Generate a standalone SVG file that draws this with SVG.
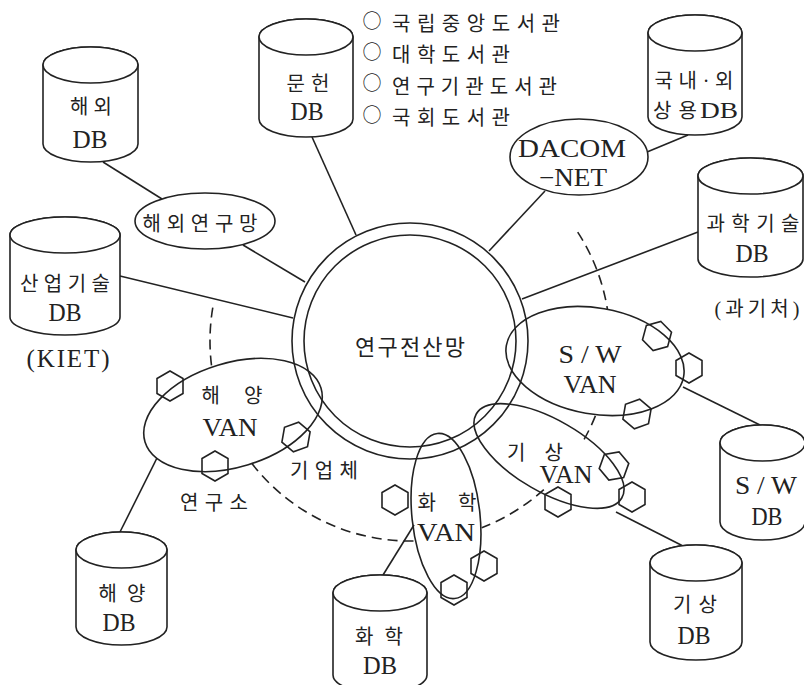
<svg xmlns="http://www.w3.org/2000/svg" xmlns:xlink="http://www.w3.org/1999/xlink" width="804" height="685" viewBox="0 0 804 685">
<style>
.s{fill:none;stroke:#222;stroke-width:1.6}
.d{fill:none;stroke:#222;stroke-width:1.6;stroke-dasharray:10 6}
.c{fill:#fff;stroke:#222;stroke-width:1.6}
.t{font-family:"Liberation Serif","Noto Sans CJK KR",serif;fill:#222;text-anchor:middle;font-size:20px}
.l{font-size:25px}
.b{font-family:"Noto Sans CJK KR",sans-serif;fill:#222;font-size:19px;text-anchor:middle}
.st{text-anchor:start}
</style>
<defs>
<polygon id="hx" points="0,-15 13,-7.5 13,7.5 0,15 -13,7.5 -13,-7.5" fill="none" stroke="#222" stroke-width="1.6"/>
</defs>
<rect width="804" height="685" fill="#fff"/>

<g id="connectors">
<path class="s" d="M103,162 L162,199"/>
<path class="s" d="M243,245 L305,282"/>
<path class="s" d="M120,276 L293,318"/>
<path class="s" d="M312,137 L356,235"/>
<path class="s" d="M545,191 L489,251"/>
<path class="s" d="M647,152 L688,135"/>
<path class="s" d="M698,232 L522,299"/>
<path class="s" d="M683,387 L760,425"/>
<path class="s" d="M616,512 L683,546"/>
<path class="s" d="M157,458 L120,532"/>
<path class="s" d="M414,525 L383,575"/>
<path class="d" d="M211.5,365.4 A200,200 0 0 1 213,306.3"/>
<path class="d" d="M577.7,232.1 A200,200 0 0 1 607.5,309.7"/>
<path class="d" d="M595.4,415.9 A200,200 0 0 1 582.3,442.5"/>
<path class="d" d="M543.8,489.6 A200,200 0 0 1 481.7,527.7"/>
<path class="d" d="M413.5,541 A200,200 0 0 1 250.3,461.4"/>
</g>

<g id="ring">
<circle class="s" cx="410" cy="341" r="118"/>
<circle class="s" cx="410" cy="341" r="106"/>
<text class="t" x="410" y="355" style="font-size:22px" textLength="110" lengthAdjust="spacing">연구전산망</text>
</g>

<g id="list">
<text class="b" x="372" y="28">○</text>
<text class="b" x="372" y="59">○</text>
<text class="b" x="372" y="90">○</text>
<text class="b" x="372" y="122">○</text>
<text class="t st" x="392" y="31" textLength="168" lengthAdjust="spacing">국립중앙도서관</text>
<text class="t st" x="392" y="62" textLength="118" lengthAdjust="spacing">대학도서관</text>
<text class="t st" x="392" y="94" textLength="165" lengthAdjust="spacing">연구기관도서관</text>
<text class="t st" x="392" y="125" textLength="118" lengthAdjust="spacing">국회도서관</text>
</g>

<g id="net-overseas">
<ellipse class="c" cx="205" cy="221" rx="70" ry="28"/>
<text class="t" x="200" y="230.5" textLength="115" lengthAdjust="spacing">해외연구망</text>
</g>

<g id="net-dacom">
<ellipse class="c" cx="579" cy="157" rx="69" ry="38"/>
<text class="t" x="572" y="157" style="font-size:25px" textLength="108" lengthAdjust="spacingAndGlyphs">DACOM</text>
<text class="t" x="573" y="186" style="font-size:25px" textLength="68" lengthAdjust="spacingAndGlyphs">−NET</text>
</g>

<g id="van-ocean">
<ellipse class="s" cx="233" cy="415" rx="92" ry="52" transform="rotate(-17 233 415)"/>
<use xlink:href="#hx" transform="translate(170,386)"/>
<use xlink:href="#hx" transform="translate(296,437) rotate(10)"/>
<use xlink:href="#hx" transform="translate(215,466)"/>
<text class="t" x="232" y="402.5" textLength="61" lengthAdjust="spacing">해 양</text>
<text class="t l" x="230" y="436" textLength="55" lengthAdjust="spacingAndGlyphs">VAN</text>
</g>

<g id="van-sw">
<ellipse class="s" cx="595" cy="361" rx="90" ry="53" transform="rotate(10 595 361)"/>
<use xlink:href="#hx" transform="translate(657,336) rotate(15)"/>
<use xlink:href="#hx" transform="translate(689,368)"/>
<use xlink:href="#hx" transform="translate(637,414) rotate(10)"/>
<text class="t l" x="590" y="363" textLength="63" lengthAdjust="spacingAndGlyphs">S / W</text>
<text class="t l" x="590" y="393" textLength="53" lengthAdjust="spacingAndGlyphs">VAN</text>
</g>

<g id="van-weather">
<ellipse class="s" cx="549" cy="456" rx="84" ry="36" transform="rotate(30 549 456)"/>
<use xlink:href="#hx" transform="translate(614,466) rotate(20)"/>
<use xlink:href="#hx" transform="translate(632,497)"/>
<use xlink:href="#hx" transform="translate(558,502)"/>
<text class="t" x="535" y="459.5" textLength="56" lengthAdjust="spacing">기 상</text>
<text class="t l" x="566" y="483" textLength="53" lengthAdjust="spacingAndGlyphs">VAN</text>
</g>

<g id="van-chem">
<ellipse class="s" cx="446" cy="516" rx="34" ry="83" transform="rotate(-6 446 516)"/>
<use xlink:href="#hx" transform="translate(395,500)"/>
<use xlink:href="#hx" transform="translate(484,566)"/>
<use xlink:href="#hx" transform="translate(454,590)"/>
<text class="t" x="447" y="509.5" textLength="59" lengthAdjust="spacing">화 학</text>
<text class="t l" x="446" y="541" textLength="58" lengthAdjust="spacingAndGlyphs">VAN</text>
</g>

<g id="label-company"><text class="t" x="324" y="477.5" textLength="68" lengthAdjust="spacing">기업체</text></g>
<g id="label-institute"><text class="t" x="214" y="509.5" textLength="68" lengthAdjust="spacing">연구소</text></g>

<g id="db-overseas">
<path class="c" d="M43,65 V144 A47.5,18 0 0 0 138,144 V65 A47.5,18 0 0 0 43,65 Z"/>
<ellipse class="c" cx="90.5" cy="65" rx="47.5" ry="18"/>
<text class="t" x="91" y="113.5" textLength="42" lengthAdjust="spacing">해외</text>
<text class="t l" x="90" y="148" textLength="35" lengthAdjust="spacingAndGlyphs">DB</text>
</g>

<g id="db-literature">
<path class="c" d="M259,37 V119 A47,18 0 0 0 353,119 V37 A47,18 0 0 0 259,37 Z"/>
<ellipse class="c" cx="306" cy="37" rx="47" ry="18"/>
<text class="t" x="308" y="90.5" textLength="43" lengthAdjust="spacing">문헌</text>
<text class="t l" x="307" y="120" textLength="33" lengthAdjust="spacingAndGlyphs">DB</text>
</g>

<g id="db-commercial">
<path class="c" d="M648,33 V117 A47,18 0 0 0 742,117 V33 A47,18 0 0 0 648,33 Z"/>
<ellipse class="c" cx="695" cy="33" rx="47" ry="18"/>
<text class="t" x="694" y="87.5" textLength="79" lengthAdjust="spacing">국내·외</text>
<text class="t st" x="653" y="118" textLength="44" lengthAdjust="spacing">상용</text>
<text class="t st" x="700" y="118" style="font-size:24px" textLength="38" lengthAdjust="spacingAndGlyphs">DB</text>
</g>

<g id="db-science">
<path class="c" d="M698,176 V259 A52.5,18 0 0 0 803,259 V176 A52.5,18 0 0 0 698,176 Z"/>
<ellipse class="c" cx="750.5" cy="176" rx="52.5" ry="18"/>
<text class="t" x="753" y="230.5" textLength="93" lengthAdjust="spacing">과학기술</text>
<text class="t l" x="752" y="262" textLength="33" lengthAdjust="spacingAndGlyphs">DB</text>
<text class="t" x="757" y="315.5" textLength="85" lengthAdjust="spacing">(과기처)</text>
</g>

<g id="db-industry">
<path class="c" d="M10,235 V317 A55,18 0 0 0 120,317 V235 A55,18 0 0 0 10,235 Z"/>
<ellipse class="c" cx="65" cy="235" rx="55" ry="18"/>
<text class="t" x="65" y="290.5" textLength="90" lengthAdjust="spacing">산업기술</text>
<text class="t l" x="65" y="321" textLength="33" lengthAdjust="spacingAndGlyphs">DB</text>
<text class="t l" x="68" y="367" textLength="83" lengthAdjust="spacing">(KIET)</text>
</g>

<g id="db-ocean">
<path class="c" d="M76,550 V627 A45.5,18 0 0 0 167,627 V550 A45.5,18 0 0 0 76,550 Z"/>
<ellipse class="c" cx="121.5" cy="550" rx="45.5" ry="18"/>
<text class="t" x="122" y="600.5" textLength="47" lengthAdjust="spacing">해양</text>
<text class="t l" x="119" y="631" textLength="33" lengthAdjust="spacingAndGlyphs">DB</text>
</g>

<g id="db-chem">
<path class="c" d="M333,593 V675 A47,18 0 0 0 427,675 V593 A47,18 0 0 0 333,593 Z"/>
<ellipse class="c" cx="380" cy="593" rx="47" ry="18"/>
<text class="t" x="379" y="643.5" textLength="48" lengthAdjust="spacing">화학</text>
<text class="t l" x="380" y="674" textLength="34" lengthAdjust="spacingAndGlyphs">DB</text>
</g>

<g id="db-weather">
<path class="c" d="M650,563 V642 A46,18 0 0 0 742,642 V563 A46,18 0 0 0 650,563 Z"/>
<ellipse class="c" cx="696" cy="563" rx="46" ry="18"/>
<text class="t" x="695" y="611.5" textLength="44" lengthAdjust="spacing">기상</text>
<text class="t l" x="694" y="644" textLength="33" lengthAdjust="spacingAndGlyphs">DB</text>
</g>

<g id="db-sw">
<path class="c" d="M720,443 V522 A42.5,18 0 0 0 805,522 V443 A42.5,18 0 0 0 720,443 Z"/>
<ellipse class="c" cx="762.5" cy="443" rx="42.5" ry="18"/>
<text class="t l" x="766" y="494" textLength="62" lengthAdjust="spacingAndGlyphs">S / W</text>
<text class="t l" x="767" y="525" textLength="31" lengthAdjust="spacingAndGlyphs">DB</text>
</g>
</svg>
